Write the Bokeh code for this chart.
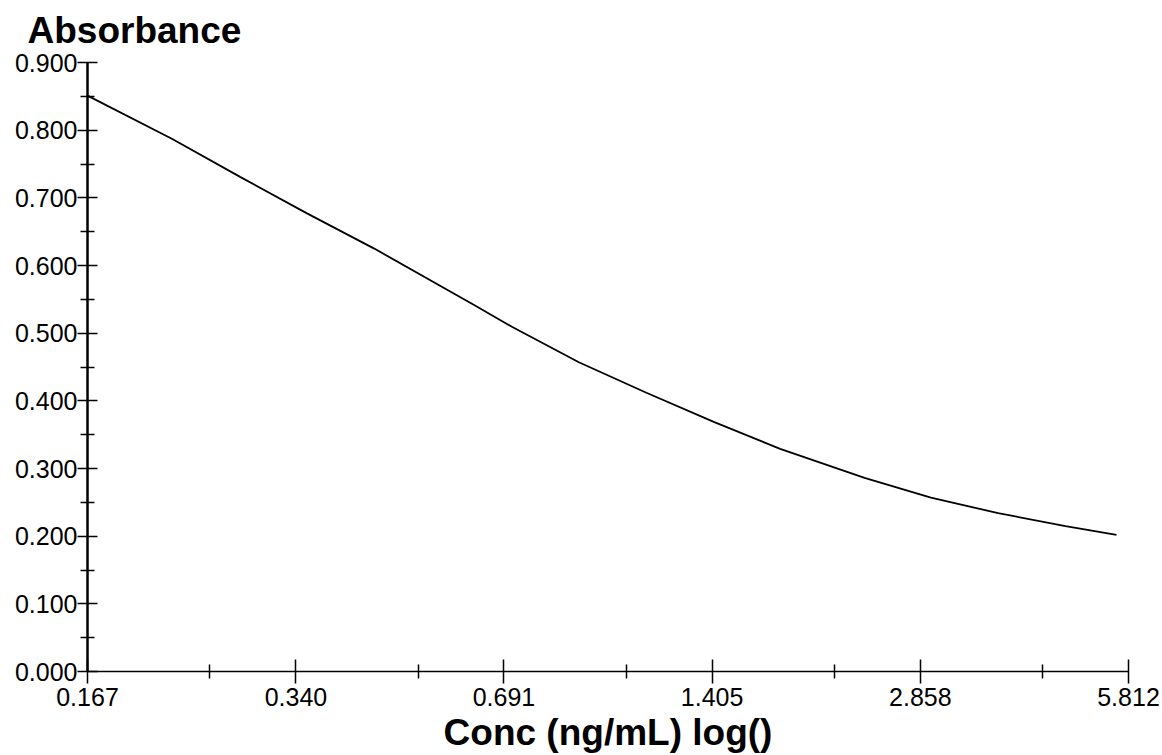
from bokeh.plotting import figure
from bokeh.models import Range1d, FixedTicker, NumeralTickFormatter
from bokeh.embed import file_html
from bokeh.resources import INLINE

# Data
conc = [0.167, 0.223, 0.281, 0.353, 0.444, 0.626, 0.711, 0.892, 1.123,
        1.413, 1.772, 2.363, 2.963, 3.726, 4.688, 5.580]
absorbance = [0.851, 0.787, 0.731, 0.677, 0.625, 0.541, 0.509, 0.457, 0.412,
              0.369, 0.329, 0.286, 0.257, 0.234, 0.215, 0.202]

x_ticks = [0.167, 0.340, 0.691, 1.405, 2.858, 5.812]
x_minor_ticks = [0.2535, 0.5155, 1.048, 2.1315, 4.335]
y_ticks = [0.0, 0.1, 0.2, 0.3, 0.4, 0.5, 0.6, 0.7, 0.8, 0.9]
y_minor_ticks = [0.05, 0.15, 0.25, 0.35, 0.45, 0.55, 0.65, 0.75, 0.85]

FONT = "Liberation Sans"

p = figure(width=1162, height=755, x_axis_type="log",
           x_range=Range1d(x_ticks[0], x_ticks[-1]),
           y_range=Range1d(y_ticks[0], y_ticks[-1]),
           output_backend="svg", toolbar_location=None,
           min_border_left=87, min_border_right=34,
           min_border_top=62, min_border_bottom=83)

p.title.text = "Absorbance"
p.title.text_font = FONT
p.title.text_font_size = "37px"
p.title.text_font_style = "bold"
p.title.align = "left"
p.title.vertical_align = "top"
p.title.offset = -60
p.title.standoff = 19
p.title.text_color = "black"

p.outline_line_color = None
p.grid.visible = False
p.background_fill_color = "white"
p.border_fill_color = "white"

p.line(conc, absorbance, line_width=1.8, color="black")

xa = p.xaxis[0]
xa.ticker = FixedTicker(ticks=x_ticks, minor_ticks=x_minor_ticks)
xa.formatter = NumeralTickFormatter(format="0.000")
xa.axis_label = "Conc (ng/mL) log()"
xa.axis_label_text_font = FONT
xa.axis_label_text_font_size = "37px"
xa.axis_label_text_font_style = "bold"
xa.axis_label_text_color = "black"
xa.axis_label_standoff = 3
xa.major_label_text_font = FONT
xa.major_label_text_font_size = "25px"
xa.major_label_text_color = "black"
xa.major_label_standoff = 4
xa.major_tick_in = 12
xa.major_tick_out = 12
xa.minor_tick_in = 7
xa.minor_tick_out = 7
xa.axis_line_width = 1.5
xa.major_tick_line_width = 1.5
xa.minor_tick_line_width = 1.5
xa.axis_line_color = "black"
xa.major_tick_line_color = "black"
xa.minor_tick_line_color = "black"

ya = p.yaxis[0]
ya.ticker = FixedTicker(ticks=y_ticks, minor_ticks=y_minor_ticks)
ya.formatter = NumeralTickFormatter(format="0.000")
ya.major_label_text_font = FONT
ya.major_label_text_font_size = "25px"
ya.major_label_text_color = "black"
ya.major_label_standoff = 0
ya.major_tick_in = 10
ya.major_tick_out = 10
ya.minor_tick_in = 7
ya.minor_tick_out = 7
ya.axis_line_width = 2.5
ya.major_tick_line_width = 1.5
ya.minor_tick_line_width = 1.5
ya.axis_line_color = "black"
ya.major_tick_line_color = "black"
ya.minor_tick_line_color = "black"

open("out.html", "w").write(file_html(p, INLINE))
